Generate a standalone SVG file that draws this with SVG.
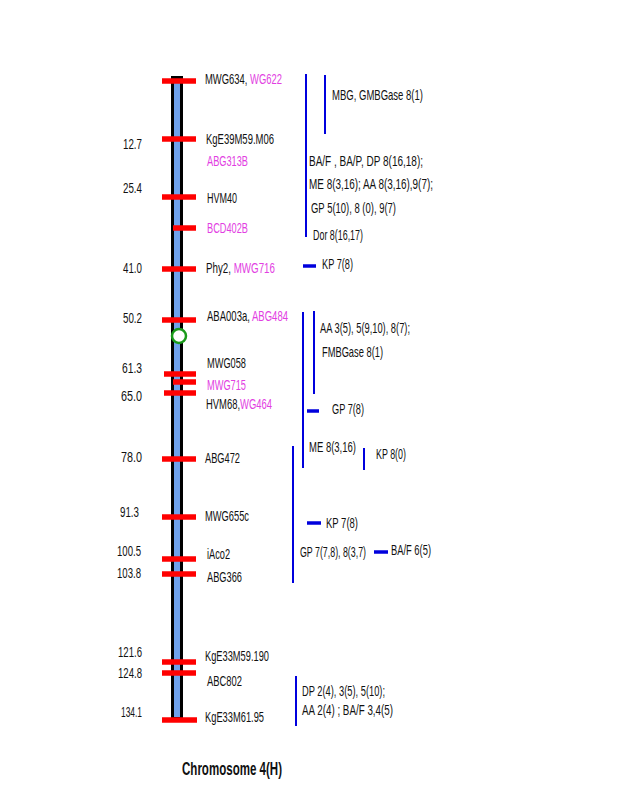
<svg xmlns="http://www.w3.org/2000/svg" width="622" height="805" viewBox="0 0 622 805">
<style>
text{font-family:"Liberation Sans",Arial,sans-serif;font-size:15px;fill:#111}
.m{fill:#e23ee2}
.n{text-anchor:end}
.t{font-weight:bold;font-size:19px}
.r{stroke:#ff0000;stroke-width:5.5}
.b{stroke:#0000dd;stroke-width:2;fill:none}
.d{stroke:#0000dd;stroke-width:3.5}
</style>
<rect width="622" height="805" fill="#fff"/>
<g id="chromosome">
<rect x="172.5" y="77.5" width="9" height="641" fill="#6fa1ec" stroke="#000" stroke-width="3"/>
</g>
<g id="markers">
<line class="r" x1="162" y1="81" x2="196" y2="81"/>
<line class="r" x1="162" y1="139" x2="196" y2="139"/>
<line class="r" x1="162" y1="197" x2="196" y2="197"/>
<line class="r" x1="173" y1="228" x2="196" y2="228"/>
<line class="r" x1="162" y1="269" x2="196" y2="269"/>
<line class="r" x1="162" y1="320" x2="196" y2="320"/>
<line class="r" x1="164" y1="374" x2="196" y2="374"/>
<line class="r" x1="173" y1="382" x2="196" y2="382"/>
<line class="r" x1="164" y1="393" x2="196" y2="393"/>
<line class="r" x1="162" y1="459" x2="196" y2="459"/>
<line class="r" x1="162" y1="517" x2="196" y2="517"/>
<line class="r" x1="162" y1="559" x2="196" y2="559"/>
<line class="r" x1="162" y1="574" x2="196" y2="574"/>
<line class="r" x1="162" y1="662" x2="196" y2="662"/>
<line class="r" x1="162" y1="673" x2="196" y2="673"/>
<line class="r" x1="162" y1="720" x2="197" y2="720"/>
</g>
<g id="centromere">
<circle cx="179" cy="336" r="7" fill="#fff" stroke="#1a9a1a" stroke-width="2.5"/>
</g>
<g id="positions">
<text class="n" x="142" y="149" textLength="19" lengthAdjust="spacingAndGlyphs">12.7</text>
<text class="n" x="142" y="193" textLength="19" lengthAdjust="spacingAndGlyphs">25.4</text>
<text class="n" x="142" y="273" textLength="19" lengthAdjust="spacingAndGlyphs">41.0</text>
<text class="n" x="142" y="323" textLength="19" lengthAdjust="spacingAndGlyphs">50.2</text>
<text class="n" x="142" y="373" textLength="20" lengthAdjust="spacingAndGlyphs">61.3</text>
<text class="n" x="142" y="401" textLength="21" lengthAdjust="spacingAndGlyphs">65.0</text>
<text class="n" x="142" y="462" textLength="21" lengthAdjust="spacingAndGlyphs">78.0</text>
<text class="n" x="139" y="517" textLength="19" lengthAdjust="spacingAndGlyphs">91.3</text>
<text class="n" x="141" y="556" textLength="24" lengthAdjust="spacingAndGlyphs">100.5</text>
<text class="n" x="141" y="578" textLength="24" lengthAdjust="spacingAndGlyphs">103.8</text>
<text class="n" x="142" y="657" textLength="24" lengthAdjust="spacingAndGlyphs">121.6</text>
<text class="n" x="142" y="678" textLength="24" lengthAdjust="spacingAndGlyphs">124.8</text>
<text class="n" x="142" y="717" textLength="21" lengthAdjust="spacingAndGlyphs">134.1</text>
</g>
<g id="marker-names">
<text x="205" y="84" textLength="77" lengthAdjust="spacingAndGlyphs">MWG634, <tspan class="m">WG622</tspan></text>
<text x="206" y="144" textLength="68" lengthAdjust="spacingAndGlyphs">KgE39M59.M06</text>
<text class="m" x="207" y="166" textLength="41" lengthAdjust="spacingAndGlyphs">ABG313B</text>
<text x="207" y="203" textLength="30" lengthAdjust="spacingAndGlyphs">HVM40</text>
<text class="m" x="207" y="233" textLength="41" lengthAdjust="spacingAndGlyphs">BCD402B</text>
<text x="206" y="273" textLength="69" lengthAdjust="spacingAndGlyphs">Phy2,  <tspan class="m">MWG716</tspan></text>
<text x="207" y="321" textLength="81" lengthAdjust="spacingAndGlyphs">ABA003a, <tspan class="m">ABG484</tspan></text>
<text x="207" y="368" textLength="39" lengthAdjust="spacingAndGlyphs">MWG058</text>
<text class="m" x="207" y="390" textLength="39" lengthAdjust="spacingAndGlyphs">MWG715</text>
<text x="206" y="409" textLength="66" lengthAdjust="spacingAndGlyphs">HVM68,<tspan class="m">WG464</tspan></text>
<text x="205" y="463" textLength="35" lengthAdjust="spacingAndGlyphs">ABG472</text>
<text x="205" y="521" textLength="44" lengthAdjust="spacingAndGlyphs">MWG655c</text>
<text x="207" y="559" textLength="23" lengthAdjust="spacingAndGlyphs">iAco2</text>
<text x="207" y="582" textLength="35" lengthAdjust="spacingAndGlyphs">ABG366</text>
<text x="205" y="661" textLength="64" lengthAdjust="spacingAndGlyphs">KgE33M59.190</text>
<text x="207" y="686" textLength="35" lengthAdjust="spacingAndGlyphs">ABC802</text>
<text x="205" y="722" textLength="59" lengthAdjust="spacingAndGlyphs">KgE33M61.95</text>
</g>
<g id="connectors">
<line class="b" x1="306" y1="74" x2="306" y2="237"/>
<line class="b" x1="325" y1="75" x2="325" y2="134"/>
<line class="d" x1="303" y1="266" x2="316" y2="266"/>
<line class="b" x1="303" y1="312" x2="303" y2="468"/>
<line class="b" x1="314" y1="311" x2="314" y2="394"/>
<line class="d" x1="307" y1="411" x2="319" y2="411"/>
<line class="b" x1="293" y1="446" x2="293" y2="583"/>
<line class="b" x1="364" y1="448" x2="364" y2="470"/>
<line class="d" x1="307" y1="523" x2="321" y2="523"/>
<line class="d" x1="374" y1="552" x2="388" y2="552"/>
<line class="b" x1="296" y1="676" x2="296" y2="726"/>
</g>
<g id="traits">
<text x="332" y="100" textLength="91" lengthAdjust="spacingAndGlyphs">MBG, GMBGase 8(1)</text>
<text x="309" y="166" textLength="114" lengthAdjust="spacingAndGlyphs">BA/F , BA/P, DP 8(16,18);</text>
<text x="309" y="189" textLength="124" lengthAdjust="spacingAndGlyphs">ME 8(3,16);  AA 8(3,16),9(7);</text>
<text x="311" y="213" textLength="85" lengthAdjust="spacingAndGlyphs">GP 5(10), 8 (0), 9(7)</text>
<text x="313" y="240" textLength="50" lengthAdjust="spacingAndGlyphs">Dor 8(16,17)</text>
<text x="322" y="269" textLength="31" lengthAdjust="spacingAndGlyphs">KP 7(8)</text>
<text x="320" y="333" textLength="90" lengthAdjust="spacingAndGlyphs">AA 3(5), 5(9,10), 8(7);</text>
<text x="322" y="357" textLength="61" lengthAdjust="spacingAndGlyphs">FMBGase 8(1)</text>
<text x="332" y="414" textLength="32" lengthAdjust="spacingAndGlyphs">GP 7(8)</text>
<text x="309" y="452" textLength="47" lengthAdjust="spacingAndGlyphs">ME 8(3,16)</text>
<text x="376" y="459" textLength="30" lengthAdjust="spacingAndGlyphs">KP 8(0)</text>
<text x="326" y="528" textLength="32" lengthAdjust="spacingAndGlyphs">KP 7(8)</text>
<text x="300" y="557" textLength="66" lengthAdjust="spacingAndGlyphs">GP 7(7,8), 8(3,7)</text>
<text x="391" y="555" textLength="40" lengthAdjust="spacingAndGlyphs">BA/F 6(5)</text>
<text x="302" y="696" textLength="83" lengthAdjust="spacingAndGlyphs">DP 2(4), 3(5), 5(10);</text>
<text x="302" y="715" textLength="91" lengthAdjust="spacingAndGlyphs">AA 2(4) ;   BA/F 3,4(5)</text>
</g>
<g id="title">
<text class="t" x="182" y="775" textLength="100" lengthAdjust="spacingAndGlyphs">Chromosome 4(H)</text>
</g>
</svg>
